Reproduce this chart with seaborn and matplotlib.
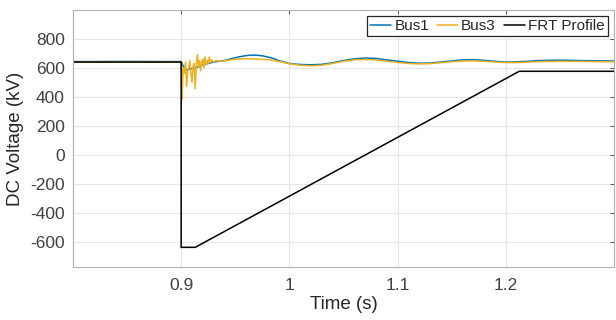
import numpy as np
import pandas as pd
import matplotlib
matplotlib.use("Agg")
import matplotlib.pyplot as plt
import seaborn as sns

# ---- data ----
bus1_t = [0.80, 0.85, 0.90, 0.902, 0.905, 0.91, 0.915, 0.92, 0.925, 0.93, 0.935, 0.94,
          0.945, 0.95, 0.955, 0.96, 0.965, 0.97, 0.975, 0.98, 0.985, 0.99, 1.00, 1.01,
          1.02, 1.03, 1.04, 1.05, 1.06, 1.07, 1.08, 1.09, 1.10, 1.11, 1.12, 1.13, 1.14,
          1.15, 1.16, 1.17, 1.18, 1.19, 1.20, 1.21, 1.22, 1.23, 1.25, 1.27, 1.29, 1.30]
bus1_v = [643, 644, 643, 610, 585, 595, 605, 620, 630, 640, 645, 650,
          660, 670, 678, 684, 688, 687, 683, 675, 665, 650, 630, 623,
          621, 624, 635, 650, 662, 668, 665, 655, 646, 637, 632, 633, 640,
          648, 655, 656, 652, 645, 640, 641, 645, 650, 653, 650, 648, 647]

bus3_t = [0.80, 0.85, 0.90, 0.9005, 0.901, 0.9015, 0.902, 0.903, 0.904, 0.905, 0.906,
          0.907, 0.908, 0.909, 0.910, 0.911, 0.912, 0.913, 0.914, 0.915, 0.916, 0.917,
          0.918, 0.919, 0.920, 0.921, 0.922, 0.923, 0.924, 0.925, 0.926, 0.927, 0.928,
          0.930, 0.932, 0.935, 0.94, 0.95, 0.96, 0.97, 0.98, 0.99, 1.00, 1.01, 1.02,
          1.03, 1.04, 1.05, 1.06, 1.07, 1.08, 1.09, 1.10, 1.11, 1.12, 1.13, 1.14, 1.15,
          1.16, 1.17, 1.18, 1.19, 1.20, 1.21, 1.22, 1.23, 1.25, 1.27, 1.29, 1.30]
bus3_v = [639, 640, 639, 560, 380, 520, 600, 560, 640, 470, 580,
          600, 650, 570, 500, 610, 630, 457, 620, 690, 610, 650,
          580, 640, 660, 600, 675, 620, 650, 630, 675, 635, 655,
          640, 650, 645, 648, 660, 663, 660, 657, 645, 628, 618, 614,
          618, 630, 645, 655, 658, 654, 645, 637, 630, 627, 629, 635, 642,
          647, 648, 645, 640, 636, 636, 639, 643, 645, 644, 642, 642]

frt_t = [0.80, 0.90, 0.90, 0.913, 1.2125, 1.30]
frt_v = [640, 640, -640, -640, 576, 576]

labels = ["Bus1", "Bus3", "FRT Profile"]
colors = ["#0072BD", "#EDB120", "#000000"]
xticks = [0.9, 1.0, 1.1, 1.2]
xticklabels = ["0.9", "1", "1.1", "1.2"]
yticks = [-600, -400, -200, 0, 200, 400, 600, 800]

sns.set_theme(style="whitegrid")
plt.rcParams["font.family"] = ["Liberation Sans", "DejaVu Sans"]
plt.rcParams["axes.unicode_minus"] = False

fig = plt.figure(figsize=(6.16, 3.2), dpi=100)
ax = fig.add_axes([0.1185, 0.166, 0.878, 0.803])

series = [(bus1_t, bus1_v), (bus3_t, bus3_v), (frt_t, frt_v)]
for (t, v), lab, c in zip(series, labels, colors):
    df = pd.DataFrame({"t": t, "v": v})
    sns.lineplot(data=df, x="t", y="v", ax=ax, color=c, label=lab,
                 linewidth=1.1, sort=False, estimator=None)

ax.set_xlim(0.8, 1.3)
ax.set_ylim(-775, 1000)
ax.set_xticks(xticks)
ax.set_xticklabels(xticklabels)
ax.set_yticks(yticks)

txt = "#262626"
ax.set_xlabel("Time (s)", fontsize=13.5, color=txt, labelpad=2)
ax.set_ylabel("DC Voltage (kV)", fontsize=13.5, color=txt, labelpad=4)
ax.tick_params(axis="both", labelsize=12.5, colors="#404040", direction="in",
               length=3, width=0.6, top=True, right=True, pad=6,
               labelcolor="#404040")
ax.tick_params(axis="x", pad=8)

ax.grid(True, color="#e6e6e6", linewidth=0.8)
for s in ax.spines.values():
    s.set_visible(True)
    s.set_color("#b0b0b0")
    s.set_linewidth(0.8)

leg = ax.legend(loc="upper right", ncol=3, fontsize=11, frameon=True,
                fancybox=False, edgecolor="#262626", handlelength=1.4,
                handletextpad=0.2, columnspacing=0.5, borderpad=0.2,
                borderaxespad=0.4)
leg.get_frame().set_linewidth(0.9)
leg.get_frame().set_alpha(1.0)

fig.savefig("out.png", dpi=100, facecolor="white")
